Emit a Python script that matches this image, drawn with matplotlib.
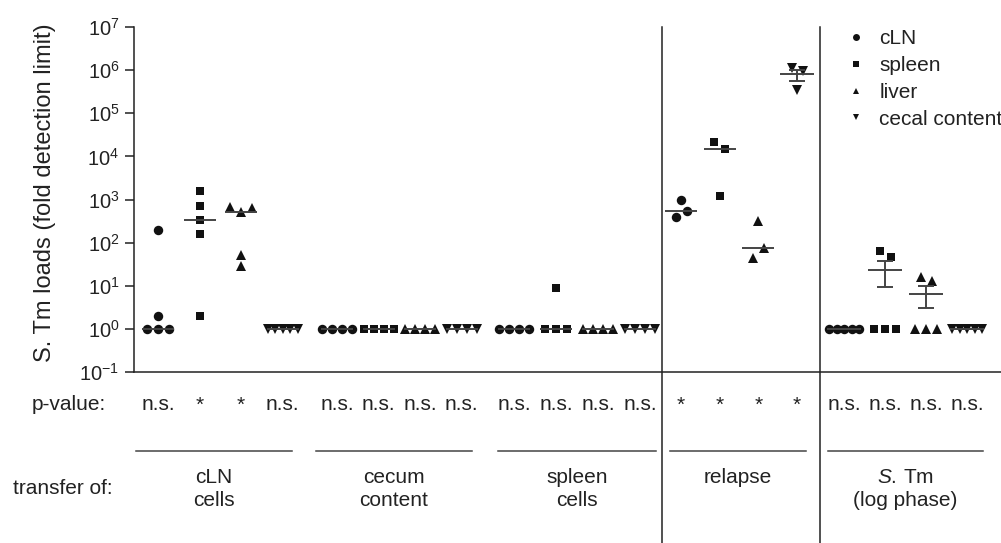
import numpy as np
import matplotlib
matplotlib.use("Agg")
import matplotlib.pyplot as plt
import matplotlib.transforms as mtransforms
from matplotlib.lines import Line2D

plt.rcParams['font.family'] = ['Liberation Sans', 'DejaVu Sans']
plt.rcParams['mathtext.fontset'] = 'custom'
plt.rcParams['mathtext.rm'] = 'Liberation Sans'
plt.rcParams['mathtext.it'] = 'Liberation Sans:italic'

# organs measured after transfer
organs = ['cLN', 'spleen', 'liver', 'cecal content']
markers = ['o', 's', '^', 'v']

# transfer groups
groups = ['cLN\ncells', 'cecum\ncontent', 'spleen\ncells', 'relapse', '$\\it{S.}\\,$Tm\n(log phase)']

# loads (fold detection limit), one list per organ, per group
cln_cells = [[1, 1, 1, 2, 200], [1550, 690, 340, 160, 2], [680, 500, 620, 52, 28], [1, 1, 1, 1, 1]]
cecum_content = [[1, 1, 1, 1], [1, 1, 1, 1], [1, 1, 1, 1], [1, 1, 1, 1]]
spleen_cells = [[1, 1, 1, 1], [9, 1, 1, 1], [1, 1, 1, 1], [1, 1, 1, 1]]
relapse = [[1000, 400, 530], [21000, 14500, 1200], [310, 45, 76], [1.1e6, 9.5e5, 3.4e5]]
stm_log = [[1, 1, 1, 1, 1], [1, 1, 1, 65, 47], [1, 1, 1, 16, 13], [1, 1, 1, 1, 1]]
all_data = [cln_cells, cecum_content, spleen_cells, relapse, stm_log]

# which summary line is drawn (median, or mean +/- SEM)
stats = [['median'] * 4, ['median'] * 4, ['median'] * 4,
         ['median', 'median', 'median', 'mean'], ['mean'] * 4]

pvalues = [['n.s.', '*', '*', 'n.s.'], ['n.s.'] * 4, ['n.s.'] * 4,
           ['*'] * 4, ['n.s.'] * 4]

# layout (pixel-like x units)
group_x0 = [158, 337, 514, 681, 844]
group_step = [41.5, 41.5, 42, 38.7, 41]
group_lines = [(136, 292), (316, 472), (498, 656), (670, 806), (828, 983)]
separators = [662, 820]

W, H = 1001, 543
fig = plt.figure(figsize=(W / 100, H / 100), dpi=100)
ax = fig.add_axes([134 / W, 1 - 372 / H, (W - 134) / W, (372 - 27) / H])

ink = '#111111'
line_c = '#444444'
text_c = '#222222'


def spread(vals):
    # spread points with similar values sideways, like a column scatter
    logs = np.log10(vals)
    order = np.argsort(logs, kind='stable')
    clusters = []
    cur = [order[0]]
    for a, b in zip(order[:-1], order[1:]):
        if logs[b] - logs[a] < 0.25:
            cur.append(b)
        else:
            clusters.append(cur)
            cur = [b]
    clusters.append(cur)
    offs = np.zeros(len(vals))
    for c in clusters:
        c = sorted(c)
        n = len(c)
        if n > 1:
            sp = min(11, 30 / (n - 1))
            for k, idx in enumerate(c):
                offs[idx] = (k - (n - 1) / 2) * sp
    return offs


for g, data in enumerate(all_data):
    for i, vals in enumerate(data):
        vals = np.array(vals, dtype=float)
        x = group_x0[g] + i * group_step[g]
        xs = x + spread(vals)
        ms = 6.8 if markers[i] != 's' else 6.2
        ax.plot(xs, vals, linestyle='none', marker=markers[i], color=ink,
                markersize=ms, markeredgewidth=0, zorder=3)
        if stats[g][i] == 'median':
            ax.hlines(np.median(vals), x - 16, x + 16, color=line_c, lw=1.4, zorder=4)
        else:
            m = vals.mean()
            sem = vals.std(ddof=1) / np.sqrt(len(vals))
            ax.hlines(m, x - 17, x + 17, color=line_c, lw=1.4, zorder=4)
            ax.errorbar(x, m, yerr=sem, fmt='none', ecolor=line_c, elinewidth=1.4,
                        capsize=6, capthick=1.4, zorder=4)

ax.set_yscale('log')
ax.set_ylim(0.1, 1e7)
ax.set_xlim(134, W)
ax.set_yticks([10.0 ** k for k in range(-1, 8)])
ax.set_yticklabels(['10$^{%d}$' % k for k in range(-1, 8)])
ax.yaxis.set_minor_locator(matplotlib.ticker.NullLocator())
ax.set_xticks([])
for s in ['top', 'right']:
    ax.spines[s].set_visible(False)
for s in ['left', 'bottom']:
    ax.spines[s].set_color('#222222')
    ax.spines[s].set_linewidth(1.1)
ax.tick_params(axis='y', length=6.5, width=1.1, color='#222222', pad=4,
               labelsize=14.5, labelcolor=text_c)
ax.set_ylabel('S. Tm loads (fold detection limit)', fontsize=17, color=text_c)
ax.yaxis.set_label_coords(-0.09, 0.52)

# legend
handles = [Line2D([], [], linestyle='none', marker=m, color=ink, markersize=5,
                  markeredgewidth=0) for m in markers]
leg = ax.legend(handles, organs, loc='upper left', bbox_to_anchor=(848 / W, 1 - 29 / H),
                bbox_transform=fig.transFigure, frameon=False, fontsize=15,
                handlelength=0.8, handletextpad=0.7, labelspacing=0.38, borderpad=0,
                borderaxespad=0)
for t in leg.get_texts():
    t.set_color(text_c)

# separators between groups
for xs in separators:
    xf = ax.transData.transform((xs, 1))[0] / fig.bbox.width
    fig.add_artist(Line2D([xf, xf], [0, 1 - 27 / H], transform=fig.transFigure,
                          color='#222222', lw=1.1))

# annotations under the axis
tr = mtransforms.blended_transform_factory(ax.transData, fig.transFigure)
fig.text(106 / W, 1 - 405 / H, 'p-value:', fontsize=15, va='center', ha='right', color=text_c)
fig.text(113 / W, 1 - 488 / H, 'transfer of:', fontsize=15, va='center', ha='right', color=text_c)
for g in range(len(groups)):
    for i, p in enumerate(pvalues[g]):
        x = group_x0[g] + i * group_step[g]
        fig.text(x, 1 - 405 / H, p, transform=tr, fontsize=15, ha='center', va='center',
                 color=text_c)
    x0, x1 = group_lines[g]
    fig.add_artist(Line2D([x0, x1], [1 - 451 / H] * 2, transform=tr, color='#444444', lw=1.1))
    fig.text((x0 + x1) / 2, 1 - 468 / H, groups[g], transform=tr, fontsize=15,
             ha='center', va='top', linespacing=1.3, color=text_c)

fig.savefig('out.png', dpi=100)
